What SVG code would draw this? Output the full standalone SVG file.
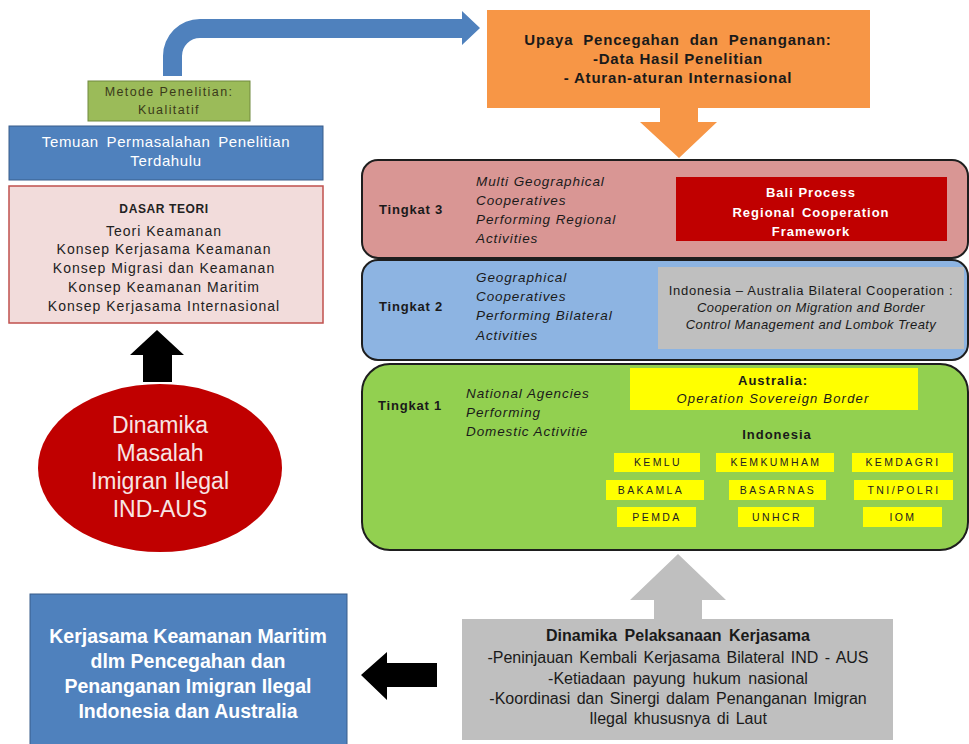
<svg xmlns="http://www.w3.org/2000/svg" width="969" height="744" viewBox="0 0 969 744">
<style>
text{font-family:"Liberation Sans",Arial,sans-serif;}
.c{text-anchor:middle;}
.b{font-weight:bold;}
.i{font-style:italic;}
.t13{font-size:13.5px;fill:#1a1a1a;letter-spacing:0.9px;}
.tl{font-size:13px;fill:#1a1a1a;font-weight:bold;letter-spacing:0.8px;}
.tier{stroke:#1e1e1e;stroke-width:2;}
.ybox{fill:#FFFF00;}
.ylab{font-size:10.5px;letter-spacing:2.4px;text-anchor:middle;fill:#222;}
.dt{font-size:14px;fill:#222;letter-spacing:1px;text-anchor:middle;}
.up{font-size:15px;fill:#1a1a1a;font-weight:bold;letter-spacing:0.8px;text-anchor:middle;}
.gb{font-size:16px;fill:#1a1a1a;text-anchor:middle;}
.bb{font-size:19.5px;fill:#ffffff;font-weight:bold;text-anchor:middle;}
</style>
<rect width="969" height="744" fill="#ffffff"/>

<g id="connectors">
<path d="M163,76 L163,56 A37,37 0 0 1 200,19 L462,19 L462,11 L480,28 L462,45 L462,38 L200,38 A18,18 0 0 0 182,56 L182,76 Z" fill="#4F81BD"/>
<path d="M157,330 L184,355 L172,355 L172,382 L143,382 L143,355 L130,355 Z" fill="#000000"/>
<path d="M361,675 L387,652 L387,663 L437,663 L437,687 L387,687 L387,700 Z" fill="#000000"/>
</g>

<g id="metode">
<rect x="88" y="81" width="162" height="40" fill="#9BBB59" stroke="#71893F" stroke-width="1"/>
<text class="c" x="169" y="96" font-size="12.5" fill="#3a3a1a" letter-spacing="1.4">Metode Penelitian:</text>
<text class="c" x="169" y="114" font-size="12.5" fill="#3a3a1a" letter-spacing="1.4">Kualitatif</text>
</g>

<g id="temuan">
<rect x="9" y="126" width="314" height="54" fill="#4F81BD" stroke="#385D8A" stroke-width="1"/>
<text class="c" x="166" y="147" font-size="15" fill="#ffffff" word-spacing="3" letter-spacing="0.6">Temuan Permasalahan Penelitian</text>
<text class="c" x="166" y="166" font-size="15" fill="#ffffff" letter-spacing="0.6">Terdahulu</text>
</g>

<g id="dasar-teori">
<rect x="9" y="186" width="314" height="137" fill="#F2DCDB" stroke="#C0504D" stroke-width="1.5"/>
<text class="c b" x="164" y="213" font-size="12" fill="#222" letter-spacing="0.6">DASAR TEORI</text>
<text class="dt" x="164" y="236">Teori  Keamanan</text>
<text class="dt" x="164" y="254">Konsep Kerjasama Keamanan</text>
<text class="dt" x="164" y="273">Konsep Migrasi dan Keamanan</text>
<text class="dt" x="164" y="292">Konsep Keamanan Maritim</text>
<text class="dt" x="164" y="311">Konsep Kerjasama Internasional</text>
</g>

<g id="dinamika-masalah">
<ellipse cx="160" cy="468" rx="122" ry="84" fill="#C00000"/>
<text class="c" x="160" y="433" font-size="23" fill="#F7E4E4">Dinamika</text>
<text class="c" x="160" y="461" font-size="23" fill="#F7E4E4">Masalah</text>
<text class="c" x="160" y="489" font-size="23" fill="#F7E4E4">Imigran Ilegal</text>
<text class="c" x="160" y="517" font-size="23" fill="#F7E4E4">IND-AUS</text>
</g>

<g id="upaya">
<path d="M487,10 H870 V108 H698 V122 H717 L679,158 L640,122 H660 V108 H487 Z" fill="#F79646"/>
<text class="up" x="678" y="45" word-spacing="5">Upaya Pencegahan dan Penanganan:</text>
<text class="up" x="678" y="64">-Data Hasil Penelitian</text>
<text class="up" x="678" y="83">- Aturan-aturan Internasional</text>
</g>

<g id="tingkat-3">
<rect class="tier" x="362" y="160" width="606" height="98" rx="16" fill="#D99694"/>
<text class="tl" x="379" y="214">Tingkat 3</text>
<text class="i t13" x="476" y="186">Multi Geographical</text>
<text class="i t13" x="476" y="205">Cooperatives</text>
<text class="i t13" x="476" y="224">Performing Regional</text>
<text class="i t13" x="476" y="243">Activities</text>
<rect x="676" y="177" width="271" height="64" fill="#C00000"/>
<text class="c b" x="811" y="197" font-size="13" fill="#ffffff" letter-spacing="1">Bali Process</text>
<text class="c b" x="811" y="217" font-size="13" fill="#ffffff" word-spacing="2" letter-spacing="1">Regional Cooperation</text>
<text class="c b" x="811" y="236" font-size="13" fill="#ffffff" letter-spacing="1">Framework</text>
</g>

<g id="tingkat-2">
<rect class="tier" x="362" y="260" width="606" height="100" rx="16" fill="#8DB4E2"/>
<text class="tl" x="379" y="311">Tingkat 2</text>
<text class="i t13" x="476" y="282">Geographical</text>
<text class="i t13" x="476" y="301">Cooperatives</text>
<text class="i t13" x="476" y="320">Performing Bilateral</text>
<text class="i t13" x="476" y="340">Activities</text>
<rect x="658" y="267" width="306" height="82" fill="#BFBFBF"/>
<text class="c" x="811" y="295" font-size="13" fill="#1a1a1a" letter-spacing="0.7">Indonesia – Australia Bilateral Cooperation :</text>
<text class="c i" x="811" y="312" font-size="13" fill="#1a1a1a" letter-spacing="0.4">Cooperation on Migration and Border</text>
<text class="c i" x="811" y="329" font-size="13" fill="#1a1a1a" letter-spacing="0.4">Control Management and Lombok Treaty</text>
</g>

<g id="tingkat-1">
<rect class="tier" x="362" y="364" width="606" height="186" rx="28" fill="#92D050"/>
<text class="tl" x="378" y="410">Tingkat 1</text>
<text class="i t13" x="466" y="398">National Agencies</text>
<text class="i t13" x="466" y="417">Performing</text>
<text class="i t13" x="466" y="436">Domestic Activitie</text>
<rect class="ybox" x="630" y="368" width="288" height="42"/>
<text class="c b" x="773" y="385" font-size="13" fill="#1a1a1a" letter-spacing="1">Australia:</text>
<text class="c i" x="773" y="403" font-size="13" fill="#1a1a1a" letter-spacing="1.2">Operation Sovereign Border</text>
<text class="c b" x="777" y="439" font-size="13" fill="#1a1a1a" letter-spacing="1">Indonesia</text>
<rect class="ybox" x="614" y="453" width="86" height="19"/>
<text class="ylab" x="658" y="466">KEMLU</text>
<rect class="ybox" x="716" y="453" width="118" height="19"/>
<text class="ylab" x="776" y="466">KEMKUMHAM</text>
<rect class="ybox" x="852" y="453" width="101" height="19"/>
<text class="ylab" x="903" y="466">KEMDAGRI</text>
<rect class="ybox" x="606" y="480" width="98" height="20"/>
<text class="ylab" x="651" y="494">BAKAMLA</text>
<rect class="ybox" x="729" y="480" width="97" height="20"/>
<text class="ylab" x="778" y="494">BASARNAS</text>
<rect class="ybox" x="854" y="480" width="99" height="20"/>
<text class="ylab" x="904" y="494">TNI/POLRI</text>
<rect class="ybox" x="617" y="507" width="79" height="20"/>
<text class="ylab" x="657" y="521">PEMDA</text>
<rect class="ybox" x="738" y="507" width="76" height="20"/>
<text class="ylab" x="777" y="521">UNHCR</text>
<rect class="ybox" x="863" y="507" width="79" height="20"/>
<text class="ylab" x="903" y="521">IOM</text>
</g>

<g id="dinamika-pelaksanaan">
<path d="M462,619 H654 V600 H630 L678,554 L726,600 H702 V619 H893 V740 H462 Z" fill="#BFBFBF"/>
<text class="gb b" x="678" y="641" word-spacing="3">Dinamika Pelaksanaan  Kerjasama</text>
<text class="gb" x="678" y="663" word-spacing="2">-Peninjauan Kembali Kerjasama Bilateral IND - AUS</text>
<text class="gb" x="678" y="684" word-spacing="3">-Ketiadaan payung hukum nasional</text>
<text class="gb" x="678" y="704" word-spacing="2">-Koordinasi dan Sinergi dalam Penanganan  Imigran</text>
<text class="gb" x="678" y="724" word-spacing="2">Ilegal khususnya di Laut</text>
</g>

<g id="kerjasama-maritim">
<rect x="30" y="594" width="317" height="155" fill="#4F81BD" stroke="#385D8A" stroke-width="1"/>
<text class="bb" x="188" y="643">Kerjasama Keamanan Maritim</text>
<text class="bb" x="188" y="668">dlm Pencegahan dan</text>
<text class="bb" x="188" y="693">Penanganan Imigran Ilegal</text>
<text class="bb" x="188" y="718">Indonesia dan Australia</text>
</g>
</svg>
